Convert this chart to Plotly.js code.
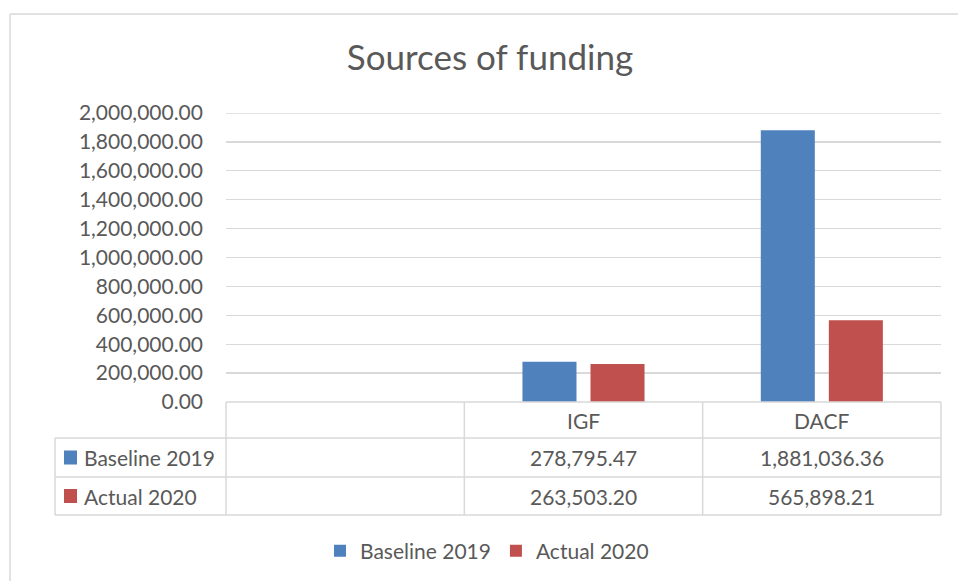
<!DOCTYPE html>
<html>
<head>
<meta charset="utf-8">
<script src="https://cdn.plot.ly/plotly-3.0.1.min.js"></script>
<style>html,body{margin:0;padding:0;background:#fff;}#chart{width:958px;height:581px;}</style>
</head>
<body>
<div id="chart"></div>
<script>
// ---- data ----
const categories = ["", "IGF", "DACF"];
const seriesNames = ["Baseline 2019", "Actual 2020"];
const baseline2019 = [null, 278795.47, 1881036.36];
const actual2020 = [null, 263503.20, 565898.21];
const yTickVals = [0, 200000, 400000, 600000, 800000, 1000000, 1200000, 1400000, 1600000, 1800000, 2000000];

// ---- style ----
const colors = ["#4F81BD", "#C0504D"];
const FONT = "Lato, 'Open Sans', sans-serif";
const TXT = "#595959";
const GRID = "#D9D9D9";
const W = 958, H = 581;
const M = {l: 226, r: 17, t: 113, b: 179};
const plotW = W - M.l - M.r, plotH = H - M.t - M.b;
const px2x = p => (p - M.l) / plotW;          // pixel -> paper x
const py2y = p => (H - M.b - p) / plotH;      // pixel -> paper y

const fmt = v => (v === null || v === undefined) ? "" :
  v.toLocaleString("en-US", {minimumFractionDigits: 2, maximumFractionDigits: 2});

const xIdx = categories.map((c, i) => i);
const seriesVals = [baseline2019, actual2020];
const yMax = yTickVals[yTickVals.length - 1];

const traces = seriesNames.map((name, s) => ({
  type: "bar",
  name: name,
  x: xIdx,
  y: seriesVals[s],
  marker: {color: colors[s]},
  hoverinfo: "x+y+name"
}));

// table geometry (pixels)
const tableTop = 402, headBot = 438, row1Bot = 477, row2Bot = 515, tableLeft = 55;
const n = categories.length;
const shapes = [];
const line = (x0, y0, x1, y1, w) => shapes.push({type: "line", xref: "paper", yref: "paper",
  x0: x0, y0: y0, x1: x1, y1: y1, line: {color: GRID, width: w || 1.5}});

// top gridline (at the edge of the range)
shapes.push({type: "line", xref: "paper", yref: "y", x0: 0, x1: 1, y0: yMax, y1: yMax,
  line: {color: GRID, width: 1.3}, layer: "below"});

// outer chart border (left + top)
line(px2x(10), py2y(14), px2x(10), py2y(H + 5));
line(px2x(10), py2y(14), px2x(W + 5), py2y(14));

// horizontal table lines
line(0, py2y(tableTop), 1, py2y(tableTop));
line(px2x(tableLeft), py2y(headBot), 1, py2y(headBot));
line(px2x(tableLeft), py2y(row1Bot), 1, py2y(row1Bot));
line(px2x(tableLeft), py2y(row2Bot), 1, py2y(row2Bot));
// vertical table lines at category boundaries
for (let i = 0; i <= n; i++) {
  line(i / n, py2y(tableTop), i / n, py2y(row2Bot));
}
line(px2x(tableLeft), py2y(headBot), px2x(tableLeft), py2y(row2Bot));

const annotations = [];
const rowCenters = [py2y((headBot + row1Bot) / 2), py2y((row1Bot + row2Bot) / 2)];
// header row: category names
categories.forEach((c, i) => {
  if (c === "") return;
  annotations.push({xref: "paper", yref: "paper", x: (i + 0.5) / n, y: py2y((tableTop + headBot) / 2),
    text: c, showarrow: false, xanchor: "center", yanchor: "middle",
    font: {family: FONT, size: 21, color: TXT}});
});
// series rows
seriesNames.forEach((name, s) => {
  // legend key
  shapes.push({type: "rect", xref: "paper", yref: "paper",
    x0: px2x(64), x1: px2x(77), y0: rowCenters[s] - 7 / plotH, y1: rowCenters[s] + 7 / plotH,
    fillcolor: colors[s], line: {width: 0}});
  annotations.push({xref: "paper", yref: "paper", x: px2x(82), y: rowCenters[s],
    text: name, showarrow: false, xanchor: "left", yanchor: "middle",
    font: {family: FONT, size: 21, color: TXT}});
  seriesVals[s].forEach((v, i) => {
    if (v === null) return;
    annotations.push({xref: "paper", yref: "paper", x: (i + 0.5) / n, y: rowCenters[s],
      text: fmt(v), showarrow: false, xanchor: "center", yanchor: "middle",
      font: {family: FONT, size: 21, color: TXT}});
  });
});

const layout = {
  width: W, height: H,
  margin: M,
  paper_bgcolor: "#fff", plot_bgcolor: "#fff",
  font: {family: FONT, color: TXT},
  title: {text: "Sources of funding", x: 490 / W, xref: "container", xanchor: "center",
    y: 1 - 58 / H, yref: "container", yanchor: "middle",
    font: {family: FONT, size: 35, color: TXT}},
  barmode: "group",
  bargap: 0.429,
  bargroupgap: 0.206,
  xaxis: {range: [-0.5, n - 0.5], showticklabels: false, showgrid: false, zeroline: false,
    showline: false, ticks: "", fixedrange: true},
  yaxis: {range: [0, yMax], tickvals: yTickVals, tickformat: ",.2f", showgrid: true,
    gridcolor: GRID, gridwidth: 1.3, zeroline: false, showline: false, ticks: "",
    ticklabelstandoff: 22, tickfont: {family: FONT, size: 21, color: TXT}, fixedrange: true},
  showlegend: true,
  legend: {orientation: "h", xref: "container", yref: "container", x: 487 / W, xanchor: "center",
    y: 1 - 551 / H, yanchor: "middle", font: {family: FONT, size: 21, color: TXT},
    itemwidth: 30, traceorder: "normal"},
  shapes: shapes,
  annotations: annotations
};

Plotly.newPlot("chart", traces, layout, {displayModeBar: false, staticPlot: true});
</script>
</body>
</html>
